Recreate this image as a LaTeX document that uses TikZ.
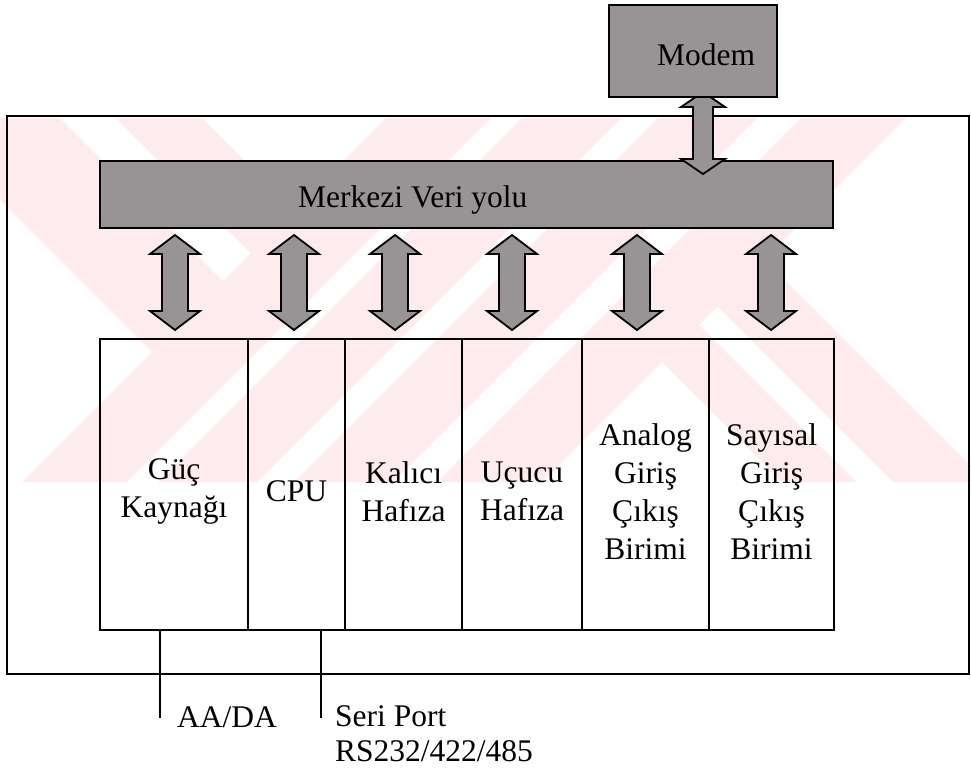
\documentclass[tikz,border=0pt]{standalone}
\usepackage{fontspec}
\setmainfont{Liberation Serif}
\definecolor{wmpink}{RGB}{254,235,238}
\definecolor{halftone}{RGB}{152,148,150}
\newcommand\vdblarrow[6]{%
  \filldraw[busarrow] (#1,#2) -- (#1+#4,#2+#6) -- (#1+#5,#2+#6) -- (#1+#5,#3-#6) -- (#1+#4,#3-#6) -- (#1,#3)
    -- (#1-#4,#3-#6) -- (#1-#5,#3-#6) -- (#1-#5,#2+#6) -- (#1-#4,#2+#6) -- cycle;}
\begin{document}
\begin{tikzpicture}[x=1pt,y=-1pt,
  box/.style={draw, line width=1.8pt, inner sep=0pt},
  graybox/.style={box, fill=halftone},
  module/.style={box, minimum height=291pt},
  lbl/.style={inner sep=0pt, font=\fontsize{31.5}{37.8}\selectfont, align=center},
  busarrow/.style={draw, line width=1.8pt, fill=halftone},
  wire/.style={line width=1.8pt},
  wm/.style={fill=wmpink}]
\useasboundingbox (0,0) rectangle (971,769);
% watermark
\begin{scope}
  \clip (0,118) rectangle (971,482);
  \foreach \a/\b in {504/609,640/739,776/875,919/1024}
    \fill[wm] (\a-118,118) -- (\b-118,118) -- (\b-482,482) -- (\a-482,482) -- cycle;
  \fill[wm] (-82,118) -- (60,118) -- (223,281) -- (152,352) -- cycle;
  \fill[wm] (116,118) -- (202,118) -- (294,210) -- (251,253) -- cycle;
  \fill[wm] (662,362) -- (699,325) -- (856,482) -- (782,482) -- cycle;
  \fill[wm] (717.5,306.5) -- (764.5,259.5) -- (987,482) -- (893,482) -- cycle;
\end{scope}
% outer frame
\draw[line width=1.8pt] (7,116) rectangle (969,674);
% bus
\node[graybox, minimum width=733pt, minimum height=67pt] (bus) at (466.5,194.5) {};
\node[lbl, anchor=base west] (bustext) at (298,207) {Merkezi Veri yolu};
% arrows bus <-> modules
\foreach \x in {175,294,395,512,637,771}
  \vdblarrow{\x}{235}{330}{25}{13}{19};
% modem arrow and modem
\vdblarrow{703}{92}{174}{22}{10}{15};
\node[graybox, minimum width=168pt, minimum height=92pt] (modem) at (693,51) {};
\node[lbl, anchor=base west] (modemtext) at (657,65) {Modem};
% modules
\node[module, minimum width=148pt] (m1) at (174,484.5) {};
\node[module, minimum width=97pt] (m2) at (296.5,484.5) {};
\node[module, minimum width=117pt] (m3) at (403.5,484.5) {};
\node[module, minimum width=120pt] (m4) at (522,484.5) {};
\node[module, minimum width=127pt] (m5) at (645.5,484.5) {};
\node[module, minimum width=125pt] (m6) at (771.5,484.5) {};
\node[lbl] (t1) at (174,491.5) {Güç\\Kaynağı};
\node[lbl] (t2) at (296.5,491.5) {CPU};
\node[lbl] (t3) at (403.5,491.5) {Kalıcı\\Hafıza};
\node[lbl] (t4) at (522,491.5) {Uçucu\\Hafıza};
\node[lbl] (t5) at (645.5,491.5) {Analog\\Giriş\\Çıkış\\Birimi};
\node[lbl] (t6) at (771.5,491.5) {Sayısal\\Giriş\\Çıkış\\Birimi};
% external connections
\coordinate (w1) at (160,718);
\coordinate (w2) at (321,718);
\draw[wire] (w1 |- m1.south) -- (w1);
\draw[wire] (w2 |- m2.south) -- (w2);
\node[lbl, anchor=base west] (acdc) at (177,727) {AA/DA};
\node[lbl, align=left, anchor=north west, font=\fontsize{31.5}{34.5}\selectfont] (serial) at (335,705.5) {Seri Port\\RS232/422/485};
\end{tikzpicture}
\end{document}
